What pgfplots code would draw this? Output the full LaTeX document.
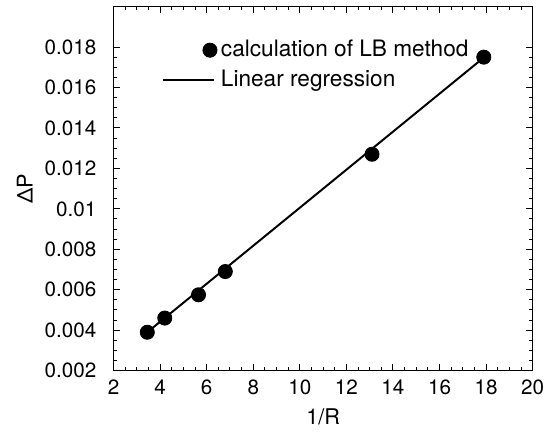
\documentclass[border={5pt 0pt 2pt 3pt}]{standalone}
\usepackage{pgfplots}
\pgfplotsset{compat=1.18}
\usepackage{fontspec}
\setmainfont{TeX Gyre Heros}
\begin{document}
\fontsize{10.5}{12.5}\selectfont
\begin{tikzpicture}
\begin{axis}[
  scale only axis,
  width=213pt, height=185pt,
  axis lines=box,
  separate axis lines,
  xtick pos=both, ytick pos=both,
  xmin=2, xmax=20, ymin=0.002, ymax=0.02,
  xtick={2,4,...,20},
  ytick={0.002,0.004,...,0.018},
  minor x tick num=3, minor y tick num=3,
  tick align=inside,
  major tick length=3.5pt, minor tick length=1.8pt,
  axis line style={line width=0.7pt, black},
  every tick/.style={line width=0.5pt, black},
  scaled y ticks=false,
  yticklabel style={/pgf/number format/fixed,/pgf/number format/precision=3, xshift=-5pt},
  xticklabel style={yshift=-1pt},
  /pgf/number format/assume math mode=true,
  tick label style={font=\fontsize{10.5}{12}\selectfont},
  label style={font=\fontsize{11}{13}\selectfont},
  xlabel={1/R},
  ylabel={ΔP},
  ylabel style={yshift=-1pt},
  legend style={draw=none, fill=none, at={(0.1,0.93)}, anchor=north west,
    font=\fontsize{11.5}{13}\selectfont, row sep=1pt},
  legend cell align=left,
  extra description/.code={\draw[line width=0.7pt, black] (rel axis cs:0,0) rectangle (rel axis cs:1,1);},
]
\addplot[only marks, mark=*, mark size=3.6pt, black,
  legend image code/.code={\path[mark=*, mark size=3.6pt, black] plot coordinates {(24pt,0pt)};}]
  coordinates {(3.45,0.0039) (4.2,0.0046) (5.65,0.00575) (6.8,0.0069) (13.1,0.0127) (17.9,0.0175)};
\addlegendentry{calculation of LB method}
\addplot[black, line width=1pt,
  legend image code/.code={\draw[black, line width=1pt] (0pt,0pt) -- (26pt,0pt);}]
  coordinates {(3.45,0.0039) (17.9,0.01748)};
\addlegendentry{Linear regression}
\end{axis}
\end{tikzpicture}
\end{document}
